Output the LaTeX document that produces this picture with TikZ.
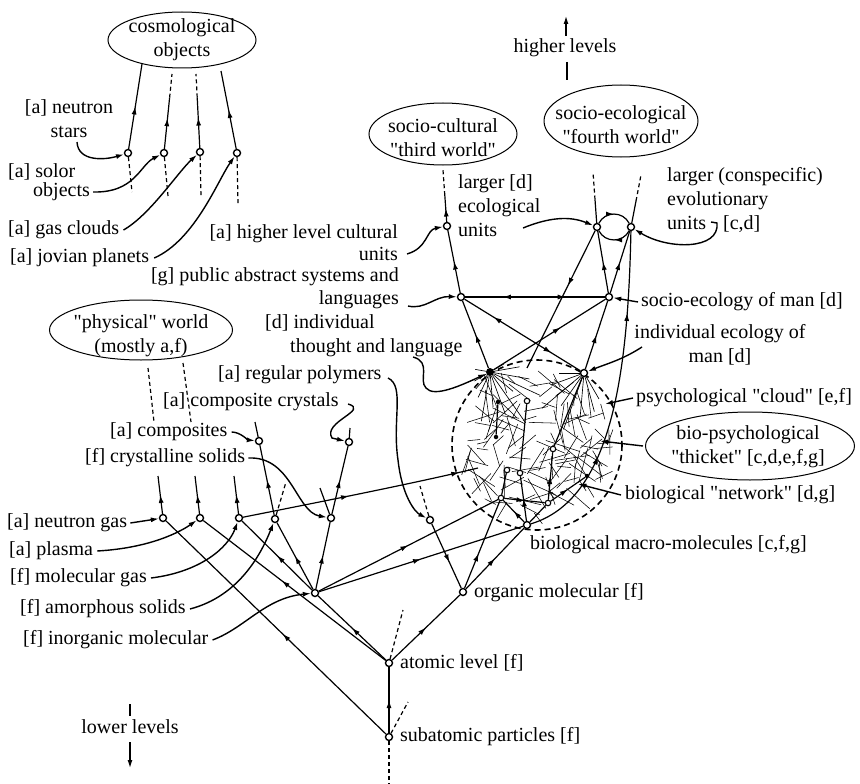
\documentclass[tikz,border=0pt]{standalone}
\usepackage{fontspec}
\setmainfont{Liberation Serif}[Ligatures=TeXOff]
\newcommand{\qmk}{\symbol{34}}
\usetikzlibrary{arrows.meta,decorations.markings,calc,shapes.geometric}
\tikzset{
  >={Latex[length=8pt,width=5pt]},
  ln/.style={line width=1.2pt},
  ma/.style={postaction={decorate,decoration={markings,mark=at position #1 with {\arrow{>}}}}},
  ma/.default=0.5,
  mr/.style={postaction={decorate,decoration={markings,mark=at position #1 with {\arrowreversed{>}}}}},
  mr/.default=0.5,
  dsh/.style={line width=1.2pt,dash pattern=on 4pt off 3pt},
  ptr/.style={line width=1.4pt,->},
  hair/.style={line width=0.55pt},
  dot/.style={circle,draw,line width=1.4pt,fill=white,inner sep=0pt,minimum size=7pt},
  sdot/.style={circle,draw,line width=1.1pt,fill=white,inner sep=0pt,minimum size=5.5pt},
  fdot/.style={circle,fill,inner sep=0pt,minimum size=4.5pt},
  lab/.style={inner sep=0pt},
  ell/.style={ellipse,draw,line width=1pt,inner sep=0pt},
}
\begin{document}
\begin{tikzpicture}[x=1pt,y=-1pt,font=\fontsize{20}{24}\selectfont]
\useasboundingbox (0,0) rectangle (860,784);

% ---------- cloud (hatch) ----------
\coordinate (cl) at (537,445);
\pgfmathsetseed{42}
\foreach \k in {1,...,135}{
  \pgfmathsetmacro{\qa}{360*rnd}
  \pgfmathsetmacro{\qr}{74*sqrt(rnd)}
  \pgfmathsetmacro{\qd}{360*rnd}
  \pgfmathsetmacro{\ql}{10+26*rnd}
  \pgfmathsetmacro{\qh}{\ql/2}
  \pgfmathsetmacro{\qe}{\qd+180}
  \draw[hair] ($(cl)+(\qa:\qr)+(\qd:\qh)$) -- ++(\qe:\ql);
}
\draw[line width=1.6pt,dash pattern=on 6pt off 4pt] (cl) circle[radius=85];

% ---------- ellipses ----------
\node[ell,minimum width=148pt,minimum height=56pt] (Ecos) at (182,40) {};
\node[lab,align=center] (Tcos) at (182,40) {cosmological\\objects};
\node[ell,minimum width=148pt,minimum height=62pt] (Esc) at (443,134) {};
\node[lab,align=center] (Tsc) at (443,138) {socio-cultural\\\qmk third world\qmk};
\node[ell,minimum width=154pt,minimum height=72pt] (Esf) at (621,121) {};
\node[lab,align=center] (Tsf) at (621,125) {socio-ecological\\\qmk fourth world\qmk};
\node[ell,minimum width=183pt,minimum height=60pt] (Eph) at (141,330) {};
\node[lab,align=center] (Tph) at (141,336) {\qmk physical\qmk\ world\\(mostly a,f)};
\node[ell,minimum width=209pt,minimum height=68pt] (Ebp) at (750,446) {};
\node[lab,align=center] (Tbp) at (748,447) {bio-psychological\\\qmk thicket\qmk\ [c,d,e,f,g]};

% ---------- labels ----------
\node[lab,align=center] (Lns) at (69,119) {[a] neutron\\stars};
\node[lab,anchor=west] (Lso1) at (8,172) {[a] solor};
\node[lab,anchor=west] (Lso2) at (33,192) {objects};
\node[lab,anchor=west] (Lgc) at (8,230) {[a] gas clouds};
\node[lab,anchor=west] (Ljp) at (10,258) {[a] jovian planets};
\node[lab,align=right,anchor=east,font=\fontsize{20}{22}\selectfont] (Lho) at (398,243) {[a] higher level cultural\\units};
\node[lab,align=right,anchor=east,font=\fontsize{20}{23}\selectfont] (Lpub) at (399,288) {[g] public abstract systems and\\languages};
\node[lab,anchor=west] (Lind1) at (265,323) {[d] individual};
\node[lab,anchor=west] (Lind2) at (290,348) {thought and language};
\node[lab,anchor=west] (Lrp) at (218,375) {[a] regular polymers};
\node[lab,anchor=west] (Lcc) at (163,402) {[a] composite crystals};
\node[lab,anchor=west] (Lco) at (110,432) {[a] composites};
\node[lab,anchor=west] (Lcs) at (85,458) {[f] crystalline solids};
\node[lab,anchor=west] (Lng) at (7,523) {[a] neutron gas};
\node[lab,anchor=west] (Lpl) at (9,551) {[a] plasma};
\node[lab,anchor=west] (Lmg) at (10,578) {[f] molecular gas};
\node[lab,anchor=west] (Las) at (20,609) {[f] amorphous solids};
\node[lab,anchor=west] (Lim) at (23,640) {[f] inorganic molecular};
\node[lab] (Llow) at (130,727) {lower levels};
\node[lab] (Lhigh) at (565,48) {higher levels};
\node[lab,anchor=west,align=left] (Llrg) at (458,206) {larger [d]\\ecological\\units};
\node[lab,anchor=west,align=left] (Llc) at (667,199) {larger (conspecific)\\evolutionary\\units};
\node[lab,anchor=west] (Lcd) at (723,224) {[c,d]};
\node[lab,anchor=west] (Lse) at (641,302) {socio-ecology of man [d]};
\node[lab,align=center] (Lie) at (720,345) {individual ecology of\\man [d]};
\node[lab,anchor=west] (Lpsy) at (636,398) {psychological \qmk cloud\qmk\ [e,f]};
\node[lab,anchor=west] (Lbn) at (625,495) {biological \qmk network\qmk\ [d,g]};
\node[lab,anchor=west] (Lbm) at (530,545) {biological macro-molecules [c,f,g]};
\node[lab,anchor=west] (Lom) at (474,593) {organic molecular [f]};
\node[lab,anchor=west] (Lal) at (400,663) {atomic level [f]};
\node[lab,anchor=west] (Lsp) at (400,737) {subatomic particles [f]};

% ---------- dots ----------
\node[dot] (c1) at (128,153) {};
\node[dot] (c2) at (164,153) {};
\node[dot] (c3) at (200,152) {};
\node[dot] (c4) at (237,153) {};
\node[dot] (A1) at (163,518) {};
\node[dot] (A2) at (200,518) {};
\node[dot] (A3) at (239,518) {};
\node[dot] (A4) at (275,519) {};
\node[dot] (A5) at (331,518) {};
\node[dot] (Bco) at (259,441) {};
\node[dot] (Bcc) at (349,442) {};
\node[dot] (Brp) at (430,520) {};
\node[dot] (Ninorg) at (315,593) {};
\node[dot] (Norg) at (463,592) {};
\node[dot] (Nat) at (389,663) {};
\node[dot] (Nsub) at (389,737) {};
\node[dot] (Nbio) at (527,525) {};
\node[circle,fill,inner sep=0pt,minimum size=8pt] (Nth) at (490,372) {};
\node[dot] (Nie) at (584,373) {};
\node[dot] (Nlang) at (461,297) {};
\node[dot] (Nse) at (609,297) {};
\node[dot] (Neco) at (447,226) {};
\node[dot] (Nlc1) at (597,227) {};
\node[dot] (Nlc2) at (631,227) {};
% cloud dots
\node[fdot] (k1) at (498,402) {};
\node[sdot] (k2) at (527,401) {};
\node[fdot] (k3) at (496,437) {};
\node[sdot] (k4) at (553,449) {};
\node[sdot] (k5) at (507,470) {};
\node[sdot] (k6) at (520,473) {};
\node[fdot] (k7) at (587,476) {};
\node[sdot] (k8) at (501,498) {};
\node[sdot] (k9) at (548,503) {};

% ---------- free coordinates ----------
\coordinate (c2t) at (172,74);
\coordinate (c3t) at (196,74);
\coordinate (c4t) at (221,71);
\coordinate (c1b) at (132,192);
\coordinate (c2b) at (168,196);
\coordinate (c3b) at (201,196);
\coordinate (c4b) at (238,204);
\coordinate (s_ns) at (77,142);
\coordinate (A1t) at (158,476);
\coordinate (A2t) at (195,476);
\coordinate (A3t) at (234,476);
\coordinate (Bcot) at (255,422);
\coordinate (Bcct) at (350,428);
\coordinate (A4t) at (286,482);
\coordinate (A5t) at (320,488);
\coordinate (Natd) at (403,610);
\coordinate (Nsubd) at (408,702);
\coordinate (Nsubb) at (389,784);
\coordinate (Brpt) at (420,486);
\coordinate (kin) at (478,468);
\coordinate (s_cc) at (348,404);
\coordinate (s_rp) at (388,378);
\coordinate (s_ind) at (413,357);
\coordinate (s_pub) at (408,306);
\coordinate (s_ho) at (407,254);
\coordinate (s_lrg) at (523,228);
\coordinate (s_cd) at (711,222);
\coordinate (s_ie) at (642,347);
\coordinate (kpsy) at (605,404);
\coordinate (kbp) at (600,441);
\coordinate (kbn) at (578,484);
\coordinate (klc) at (527,368);
\coordinate (Necot) at (443,170);
\coordinate (Nlc1t) at (593,172);
\coordinate (Nlc2t) at (641,175);
\coordinate (p1a) at (148,368);
\coordinate (p1b) at (154,422);
\coordinate (p2a) at (183,363);
\coordinate (p2b) at (191,422);
\coordinate (hl1) at (566,36);
\coordinate (hl2) at (566,16);
\coordinate (hl3) at (567,62);
\coordinate (hl4) at (567,80);
\coordinate (ll1) at (130,704);
\coordinate (ll2) at (130,716);
\coordinate (ll3) at (130,742);
\coordinate (ll4) at (130,768);

% ---------- cosmological ----------
\draw[ln,ma] (c1) -- (Ecos.-149);
\draw[ln,ma=.6] (c2) -- ($(c2)!.7!(c2t)$);
\draw[dsh] ($(c2)!.7!(c2t)$) -- (c2t);
\draw[ln,ma=.6] (c3) -- ($(c3)!.7!(c3t)$);
\draw[dsh] ($(c3)!.7!(c3t)$) -- (c3t);
\draw[ln,ma] (c4) -- (c4t);
\draw[dsh] (c1) -- (c1b);
\draw[dsh] (c2) -- (c2b);
\draw[dsh] (c3) -- (c3b);
\draw[dsh] (c4) -- (c4b);
\draw[ptr] (s_ns) .. controls (78,162) and (105,160) .. (c1);
\draw[ptr] ([xshift=3pt]Lso2.east) .. controls (135,193) and (140,165) .. (c2);
\draw[ptr] ([xshift=4pt]Lgc.east) .. controls (150,215) and (178,172) .. (c3);
\draw[ptr] ([xshift=5pt]Ljp.east) .. controls (195,240) and (218,180) .. (c4);

% ---------- physical world ----------
\draw[dsh] (p1a) -- (p1b);
\draw[dsh] (p2a) -- (p2b);

% ---------- lower left network ----------
\draw[ln,ma] (A1) -- (A1t);
\draw[ln,ma] (A2) -- (A2t);
\draw[ln,ma] (A3) -- (A3t);
\draw[ln,ma] (A4) -- (Bco);
\draw[ln,ma] (A5) -- (Bcc);
\draw[ln] (Bco) -- (Bcot);
\draw[ln] (Bcc) -- (Bcct);
\draw[dsh] (A4) -- (A4t);
\draw[ln] (A5) -- (A5t);
\draw[ln,ma=.47] (Nsub) -- (A1);
\draw[ln,ma=.57] (Nat) -- (A2);
\draw[ln,ma] (Ninorg) -- (A3);
\draw[ln,ma] (Ninorg) -- (A4);
\draw[ln,ma] (Ninorg) -- (A5);
\draw[ln,ma] (Nat) -- (Ninorg);
\draw[ln,ma] (Nsub) -- (Nat);
\draw[ln,ma] (Nat) -- (Norg);
\draw[dsh] (Nat) -- (Natd);
\draw[dsh] (Nsub) -- (Nsubd);
\draw[dsh] (Nsub) -- (Nsubb);
\draw[ln,ma=.6] (Brp) -- (Norg);
\draw[dsh] (Brp) -- (Brpt);
\draw[ln,ma] (Norg) -- (Nbio);
\draw[ln,ma=.4] (Norg) -- (k8);
\draw[ln,ma] (Ninorg) -- (k8);
\draw[ln,ma] (Ninorg) -- (Nbio);
\draw[ln,ma=.45,ma=.92] (A3) .. controls (330,500) and (420,482) .. (kin);

% label pointers (lower left)
\draw[ptr] ([xshift=3pt]Lng.east) -- (A1);
\draw[ptr] ([xshift=4pt]Lpl.east) .. controls (150,548) and (180,532) .. (A2);
\draw[ptr] ([xshift=4pt]Lmg.east) .. controls (200,572) and (228,548) .. (A3);
\draw[ptr] ([xshift=4pt]Las.east) .. controls (240,596) and (262,552) .. (A4);
\draw[ptr] ([xshift=4pt]Lim.east) .. controls (245,628) and (265,598) .. (Ninorg);
\draw[ptr] ([xshift=3pt]Lcs.east) .. controls (292,456) and (296,512) .. (A5);
\draw[ptr] ([xshift=4pt]Lco.east) .. controls (240,432) and (248,440) .. (Bco);
\draw[ptr] (s_cc) .. controls (370,410) and (322,422) .. (332,438) -- (Bcc);
\draw[ptr] (s_rp) .. controls (405,386) and (392,420) .. (398,460) .. controls (402,496) and (415,512) .. (Brp);

% ---------- upper right network ----------
\draw[ln,ma] (Neco) -- ($(Neco)!.55!(Necot)$);
\draw[dsh] ($(Neco)!.55!(Necot)$) -- (Necot);
\draw[ln] (Nlc1) -- ($(Nlc1)!.5!(Nlc1t)$);
\draw[dsh] ($(Nlc1)!.5!(Nlc1t)$) -- (Nlc1t);
\draw[ln] (Nlc2) -- ($(Nlc2)!.5!(Nlc2t)$);
\draw[dsh] ($(Nlc2)!.5!(Nlc2t)$) -- (Nlc2t);
\draw[ln,ma] (Nlang) -- (Neco);
\draw[ln,mr=.27,ma=.72] (Nlang) -- (Nse);
\draw[ln,ma] (Nth) -- (Nlang);
\draw[ln,ma=.6] (Nth) -- (Nse);
\draw[ln,mr=.25,ma=.75] (Nlang) -- (Nie);
\draw[ln,ma] (Nie) -- (Nse);
\draw[ln,ma] (Nse) -- (Nlc1);
\draw[ln,ma] (Nse) -- (Nlc2);
\draw[ln,ma=.4] (Nlc1) -- (klc);
\draw[ln,ma] (Nlc1) .. controls (605,211) and (623,211) .. (Nlc2);
\draw[ln,ma] (Nlc2) .. controls (623,243) and (605,243) .. (Nlc1);
\draw[ln,ma=.3,ma=.75] (Nbio) .. controls (610,500) and (628,380) .. (Nlc2);

% label pointers (upper)
\draw[ptr] (s_ind) .. controls (432,362) and (418,380) .. (426,388) .. controls (434,398) and (462,385) .. (Nth);
\draw[ptr] (s_pub) .. controls (425,310) and (435,296) .. (Nlang);
\draw[ptr] (s_ho) .. controls (428,248) and (426,230) .. (Neco);
\draw[ptr] (s_lrg) .. controls (550,217) and (570,216) .. (Nlc1);
\draw[ptr] (s_cd) -- (717,223) .. controls (720,250) and (668,250) .. (Nlc2);
\draw[ptr] ([xshift=-3pt]Lse.west) -- (Nse);
\draw[ptr] (s_ie) .. controls (622,360) and (606,364) .. (Nie);
\draw[ptr] ([xshift=-3pt]Lpsy.west) -- (kpsy);
\draw[ptr] ([xshift=-2pt]Ebp.west) -- (kbp);
\draw[ptr] ([xshift=-4pt]Lbn.west) -- (kbn);

% ---------- star radiation ----------
\foreach \a/\r in {10/40,25/55,40/30,55/62,70/45,85/35,100/50,115/28,130/22,150/18,-10/30,-30/16,190/15}{
  \draw[line width=0.65pt] (Nth) -- ++(\a:\r);
}
\foreach \a/\r in {95/45,110/60,125/40,140/55,160/35,75/40,60/30,180/25}{
  \draw[line width=0.65pt] (Nie) -- ++(\a:\r);
}

% ---------- cloud network ----------
\draw[ln,ma] (Nbio) -- (k8);
\draw[ln] (Nbio) -- (k9);
\draw[ln,ma] (k8) -- (k9);
\draw[ln] (k8) -- (k5);
\draw[ln,ma] (Nbio) -- (k6);
\draw[ln,ma] (k9) -- (k4);
\draw[ln,ma] (k9) -- (k7);
\draw[ln] (k6) -- (k2);
\draw[ln] (k4) -- (Nie);
\draw[ln] (k3) -- (k1);

% ---------- higher / lower levels ----------
\draw[ln,->] (hl1) -- (hl2);
\draw[ln] (hl3) -- (hl4);
\draw[ln] (ll1) -- (ll2);
\draw[ln,->] (ll3) -- (ll4);
\end{tikzpicture}
\end{document}
